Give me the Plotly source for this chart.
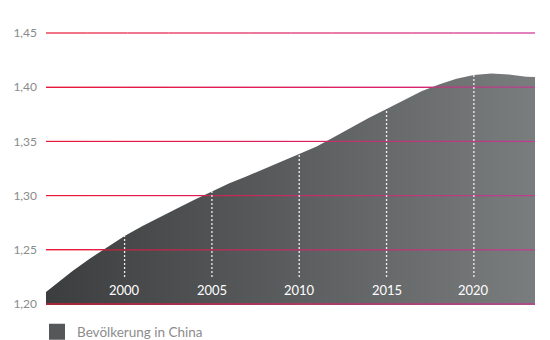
import plotly.graph_objects as go

# ---- data ----
years = list(range(1995, 2025))
population = [1.2047, 1.2177, 1.2302, 1.2418, 1.2526,
              1.2627, 1.2717, 1.2802, 1.2882, 1.2961,
              1.3040, 1.3114, 1.3179, 1.3246, 1.3312,
              1.3379, 1.3452, 1.3541, 1.3632, 1.3718,
              1.3799, 1.3879, 1.3962, 1.4025, 1.4078,
              1.4112, 1.4126, 1.4118, 1.4097, 1.4090]
x_ticks = [2000, 2005, 2010, 2015, 2020]
y_ticks = [1.20, 1.25, 1.30, 1.35, 1.40, 1.45]
series_name = "Bevölkerung in China"

FONT = "Lato, 'Open Sans', sans-serif"
GRAY_L = "#3a3c3e"
GRAY_R = "#7b7e7f"
RED_L = (236, 22, 50)
RED_R = (206, 46, 150)
x_range = [1995.5, 2023.5]

fig = go.Figure()

# area
fig.add_trace(go.Scatter(
    x=years, y=population, mode="lines", line=dict(width=0),
    fill="tozeroy",
    fillgradient=dict(type="horizontal", colorscale=[[0, GRAY_L], [1, GRAY_R]]),
    showlegend=False, hoverinfo="skip"))

# gridline overlay drawn after the area so it shows through it, red -> magenta
N = 12
span = x_range[1] - x_range[0]
for yv in y_ticks:
    for i in range(N):
        t = (i + 0.5) / N
        r, g, b = [round(a + (c - a) * t) for a, c in zip(RED_L, RED_R)]
        fig.add_trace(go.Scatter(
            x=[x_range[0] + span * i / N, x_range[0] + span * (i + 1) / N],
            y=[yv, yv], mode="lines",
            line=dict(color=f"rgba({r},{g},{b},0.8)", width=1.3),
            showlegend=False, hoverinfo="skip"))

# dashed white year markers
dash_bottom = 1.225
for yr in x_ticks:
    v = population[years.index(yr)]
    fig.add_trace(go.Scatter(
        x=[yr, yr], y=[dash_bottom, v], mode="lines",
        line=dict(color="rgba(255,255,255,0.9)", width=1.3, dash="2px,2px"),
        showlegend=False, hoverinfo="skip"))

# legend entry
fig.add_trace(go.Scatter(
    x=[None], y=[None], mode="markers", name=series_name,
    marker=dict(symbol="square", size=18, color="#555759", line=dict(width=0))))

# year labels inside the plot, just above the baseline
annotations = [dict(x=yr, y=1.2125, xref="x", yref="y", text=str(yr),
                    showarrow=False, font=dict(color="white", size=13, family=FONT))
               for yr in x_ticks]

pad = 0.05 / 54.27  # one pixel of headroom so edge gridlines are not clipped
fig.update_layout(
    width=550, height=340,
    margin=dict(l=46, r=15, t=32, b=35, autoexpand=False),
    paper_bgcolor="white", plot_bgcolor="white",
    separators=",.",
    font=dict(family=FONT, color="#8a8a8a", size=12),
    annotations=annotations,
    showlegend=True,
    legend=dict(xref="container", yref="container", x=37 / 550, y=(340 - 332) / 340,
                xanchor="left", yanchor="middle", orientation="h",
                font=dict(size=13.5, color="#8c8c8c"), bgcolor="rgba(0,0,0,0)"),
    xaxis=dict(range=x_range, showticklabels=False, showgrid=False,
               zeroline=False, showline=False, ticks=""),
    yaxis=dict(range=[1.20 - pad, 1.45 + pad], tickvals=y_ticks, tickformat=".2f",
               showgrid=True, gridcolor="rgb(226,28,80)", gridwidth=1.2,
               zeroline=False, showline=False, ticks="",
               ticklabelstandoff=8,
               tickfont=dict(color="#8a8a8a", size=12, family=FONT)),
)

fig.write_html("out.html")
